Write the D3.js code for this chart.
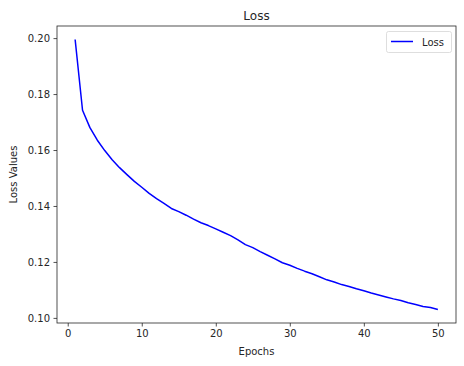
<!DOCTYPE html>
<html><head><meta charset="utf-8">
<script src="https://cdn.jsdelivr.net/npm/d3@7"></script>
<style>body{margin:0;background:#fff}svg{display:block}text{font-family:"DejaVu Sans",sans-serif;fill:#262626}</style>
</head><body>
<svg id="c" width="464" height="366"></svg>
<script>
const epochs = d3.range(1, 51);
const lossValues = [0.1995,0.1742,0.1680,0.1635,0.1598,0.1565,0.1537,0.1512,0.1488,0.1467,
0.1445,0.1426,0.1409,0.1391,0.1380,0.1367,0.1353,0.1340,0.1330,0.1318,
0.1306,0.1294,0.1279,0.1262,0.1251,0.1237,0.1224,0.1211,0.1197,0.1188,
0.1177,0.1167,0.1158,0.1147,0.1136,0.1128,0.1119,0.1112,0.1104,0.1097,
0.1089,0.1082,0.1075,0.1068,0.1062,0.1054,0.1048,0.1041,0.1037,0.1030];
const xTicks = [0,10,20,30,40,50];
const yTicks = [0.10,0.12,0.14,0.16,0.18,0.20];
const title = "Loss", xLabel = "Epochs", yLabel = "Loss Values", seriesName = "Loss";

const L = 57, R = 456, T = 26, B = 323;
const svg = d3.select("#c");
const xMin = 1, xMax = 50, xPad = (xMax - xMin) * 0.05;
const yMin = d3.min(lossValues), yMax = d3.max(lossValues), yPad = (yMax - yMin) * 0.05;
const x = d3.scaleLinear().domain([xMin - xPad, xMax + xPad]).range([L, R]);
const y = d3.scaleLinear().domain([yMin - yPad, yMax + yPad]).range([B, T]);

const xa = svg.append("g").attr("transform", `translate(0,${B})`)
  .call(d3.axisBottom(x).tickValues(xTicks).tickFormat(d3.format("d")).tickSize(3.5).tickPadding(3.5));
const ya = svg.append("g").attr("transform", `translate(${L},0)`)
  .call(d3.axisLeft(y).tickValues(yTicks).tickFormat(d3.format(".2f")).tickSize(3.5).tickPadding(3.5));
[xa, ya].forEach(g => {
  g.select(".domain").remove();
  g.selectAll("line").attr("stroke", "#262626").attr("stroke-width", 0.8);
  g.selectAll("text").attr("font-size", 10).attr("fill", "#262626").style("font-family", '"DejaVu Sans",sans-serif');
});

svg.append("path").datum(epochs)
  .attr("fill", "none").attr("stroke", "#0000ff").attr("stroke-width", 1.5)
  .attr("stroke-linejoin", "round")
  .attr("d", d3.line().x(d => x(d)).y((d, i) => y(lossValues[i])));

svg.append("rect").attr("x", L).attr("y", T).attr("width", R - L).attr("height", B - T)
  .attr("fill", "none").attr("stroke", "#262626").attr("stroke-width", 0.8);

svg.append("text").attr("x", (L + R) / 2).attr("y", T - 6).attr("text-anchor", "middle")
  .attr("font-size", 12).text(title);
svg.append("text").attr("x", (L + R) / 2).attr("y", 355).attr("text-anchor", "middle")
  .attr("font-size", 10).text(xLabel);
svg.append("text").attr("transform", `translate(17,${(T + B) / 2}) rotate(-90)`)
  .attr("text-anchor", "middle").attr("font-size", 10).text(yLabel);

const lg = svg.append("g");
lg.append("rect").attr("x", 386.5).attr("y", 31.5).attr("width", 65).attr("height", 21).attr("rx", 2)
  .attr("fill", "#fff").attr("fill-opacity", 0.8).attr("stroke", "#d5d5d5").attr("stroke-width", 0.8);
lg.append("line").attr("x1", 391).attr("x2", 413).attr("y1", 41.5).attr("y2", 41.5)
  .attr("stroke", "#0000ff").attr("stroke-width", 1.5);
lg.append("text").attr("x", 422).attr("y", 45.5).attr("font-size", 10).text(seriesName);
</script>
</body></html>
